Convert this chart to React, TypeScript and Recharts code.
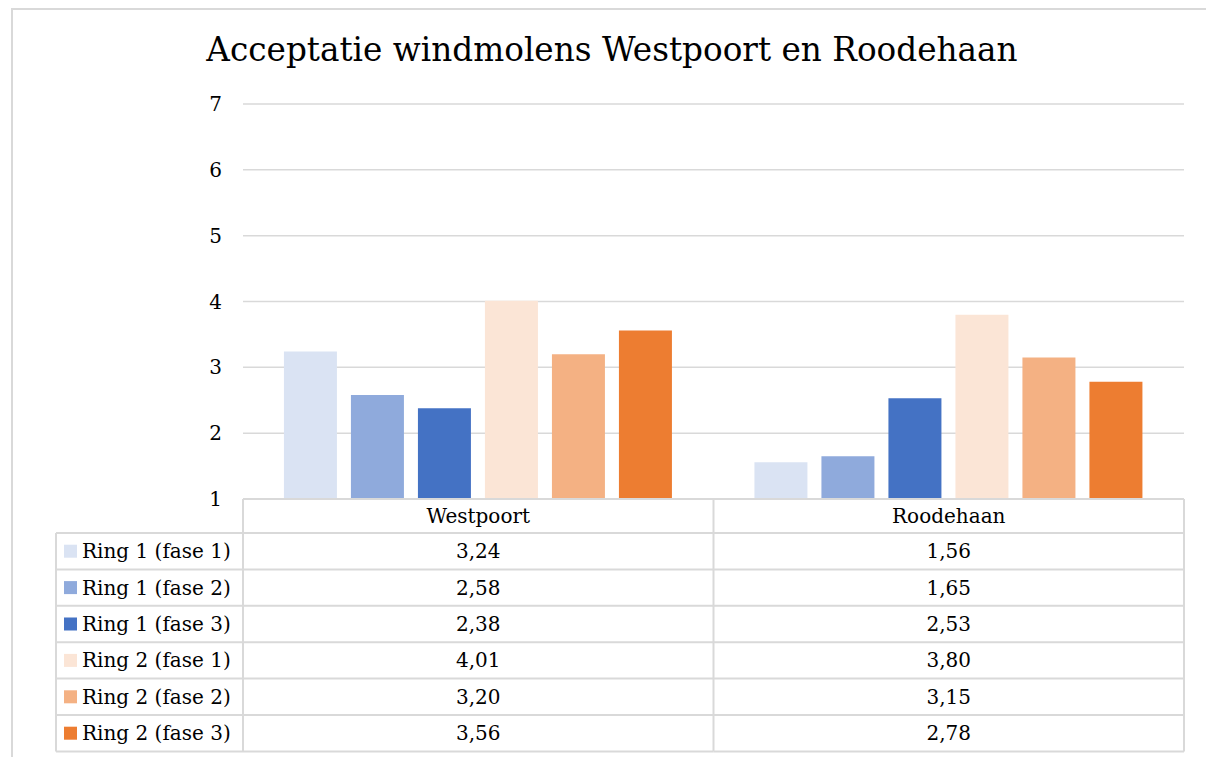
import React from 'react';
import { BarChart, Bar, XAxis, YAxis, CartesianGrid } from 'recharts';

// Data
const CATEGORIES = ['Westpoort', 'Roodehaan'];
const SERIES = [
  'Ring 1 (fase 1)',
  'Ring 1 (fase 2)',
  'Ring 1 (fase 3)',
  'Ring 2 (fase 1)',
  'Ring 2 (fase 2)',
  'Ring 2 (fase 3)',
];
const WESTPOORT = [3.24, 2.58, 2.38, 4.01, 3.2, 3.56];
const ROODEHAAN = [1.56, 1.65, 2.53, 3.8, 3.15, 2.78];
const Y_TICKS = [1, 2, 3, 4, 5, 6, 7];

const COLORS = ['#DAE3F3', '#8FAADC', '#4472C4', '#FBE5D6', '#F4B183', '#ED7D31'];

const data = CATEGORIES.map((name, i) => {
  const vals = i === 0 ? WESTPOORT : ROODEHAAN;
  const row: Record<string, any> = { name };
  SERIES.forEach((s, j) => {
    row[`s${j}`] = vals[j];
  });
  return row;
});

const FONT = "Georgia, 'DejaVu Serif', serif";
const GRID = '#D9D9D9';
const W = 1206;
const H = 757;
const MARGIN = { top: 104, right: 22, left: 183, bottom: 8 };
const Y_AXIS_W = 60;
const X_AXIS_H = 250;
const HEADER_H = 34;
const ROW_H = 36.4;
const LEGEND_COL_W = 187;
const TABLE_FONT = 20;

const fmt = (v: number) => v.toFixed(2).replace('.', ',');

// draws the data table under the plot, one column per category tick
const TableTick = (props: any) => {
  const { x, y, payload, index } = props;
  const plotW = W - MARGIN.left - Y_AXIS_W - MARGIN.right;
  const band = props.width ? props.width / CATEGORIES.length : plotW / CATEGORIES.length;
  const left = x - band / 2;
  const right = x + band / 2;
  const rowsBottom = y + HEADER_H + ROW_H * SERIES.length;
  const last = index === CATEGORIES.length - 1;
  const lineProps = { stroke: GRID, strokeWidth: 2 };
  const textProps = { fontFamily: FONT, fontSize: TABLE_FONT, fill: '#000', textAnchor: 'middle' as const };

  return (
    <g>
      <line x1={left} x2={left} y1={y} y2={rowsBottom} {...lineProps} />
      {last && <line x1={right} x2={right} y1={y} y2={rowsBottom} {...lineProps} />}
      {SERIES.map((_, j) => (
        <line
          key={`h${j}`}
          x1={index === 0 ? left - LEGEND_COL_W : left}
          x2={right}
          y1={y + HEADER_H + ROW_H * j}
          y2={y + HEADER_H + ROW_H * j}
          {...lineProps}
        />
      ))}
      <line
        x1={index === 0 ? left - LEGEND_COL_W : left}
        x2={right}
        y1={rowsBottom}
        y2={rowsBottom}
        {...lineProps}
      />
      <text x={x} y={y + HEADER_H / 2} dy="0.35em" {...textProps}>
        {payload.value}
      </text>
      {SERIES.map((_, j) => {
        const vals = index === 0 ? WESTPOORT : ROODEHAAN;
        return (
          <text key={`v${j}`} x={x} y={y + HEADER_H + ROW_H * j + ROW_H / 2} dy="0.35em" {...textProps}>
            {fmt(vals[j])}
          </text>
        );
      })}
      {index === 0 && (
        <g>
          <line
            x1={left - LEGEND_COL_W}
            x2={left - LEGEND_COL_W}
            y1={y + HEADER_H}
            y2={rowsBottom}
            {...lineProps}
          />
          {SERIES.map((s, j) => {
            const cy = y + HEADER_H + ROW_H * j + ROW_H / 2;
            return (
              <g key={`l${j}`}>
                <rect x={left - LEGEND_COL_W + 8} y={cy - 6.5} width={13} height={13} fill={COLORS[j]} />
                <text
                  x={left - LEGEND_COL_W + 26}
                  y={cy}
                  dy="0.35em"
                  fontFamily={FONT}
                  fontSize={TABLE_FONT}
                  fill="#000"
                >
                  {s}
                </text>
              </g>
            );
          })}
        </g>
      )}
    </g>
  );
};

export default function App() {
  return (
    <div style={{ position: 'absolute', left: 0, top: 0, width: W, height: H, background: '#fff', overflow: 'hidden' }}>
      <div
        style={{
          position: 'absolute',
          left: 11,
          top: 8,
          width: W,
          height: H,
          borderLeft: `2px solid ${GRID}`,
          borderTop: `2px solid ${GRID}`,
        }}
      />
      <div
        style={{
          position: 'absolute',
          left: 0,
          top: 30,
          width: 1224,
          textAlign: 'center',
          fontFamily: FONT,
          fontSize: 32.7,
          color: '#000',
          lineHeight: '40px',
        }}
      >
        Acceptatie windmolens Westpoort en Roodehaan
      </div>
      <div style={{ position: 'absolute', left: 0, top: 0 }}>
        <BarChart width={W} height={H} data={data} margin={MARGIN} barCategoryGap="8.7%" barGap={14}>
          <CartesianGrid horizontal vertical={false} stroke={GRID} strokeWidth={1.5} />
          <XAxis
            dataKey="name"
            height={X_AXIS_H}
            axisLine={{ stroke: GRID, strokeWidth: 2 }}
            tickLine={false}
            tickSize={0}
            tickMargin={0}
            interval={0}
            tick={<TableTick />}
          />
          <YAxis
            width={Y_AXIS_W}
            domain={[1, 7]}
            ticks={Y_TICKS}
            allowDataOverflow
            axisLine={false}
            tickLine={false}
            tickSize={0}
            tickMargin={21}
            tick={{ fontFamily: FONT, fontSize: 20, fill: '#000' }}
          />
          {SERIES.map((s, j) => (
            <Bar key={s} dataKey={`s${j}`} name={s} fill={COLORS[j]} isAnimationActive={false} />
          ))}
        </BarChart>
      </div>
    </div>
  );
}
